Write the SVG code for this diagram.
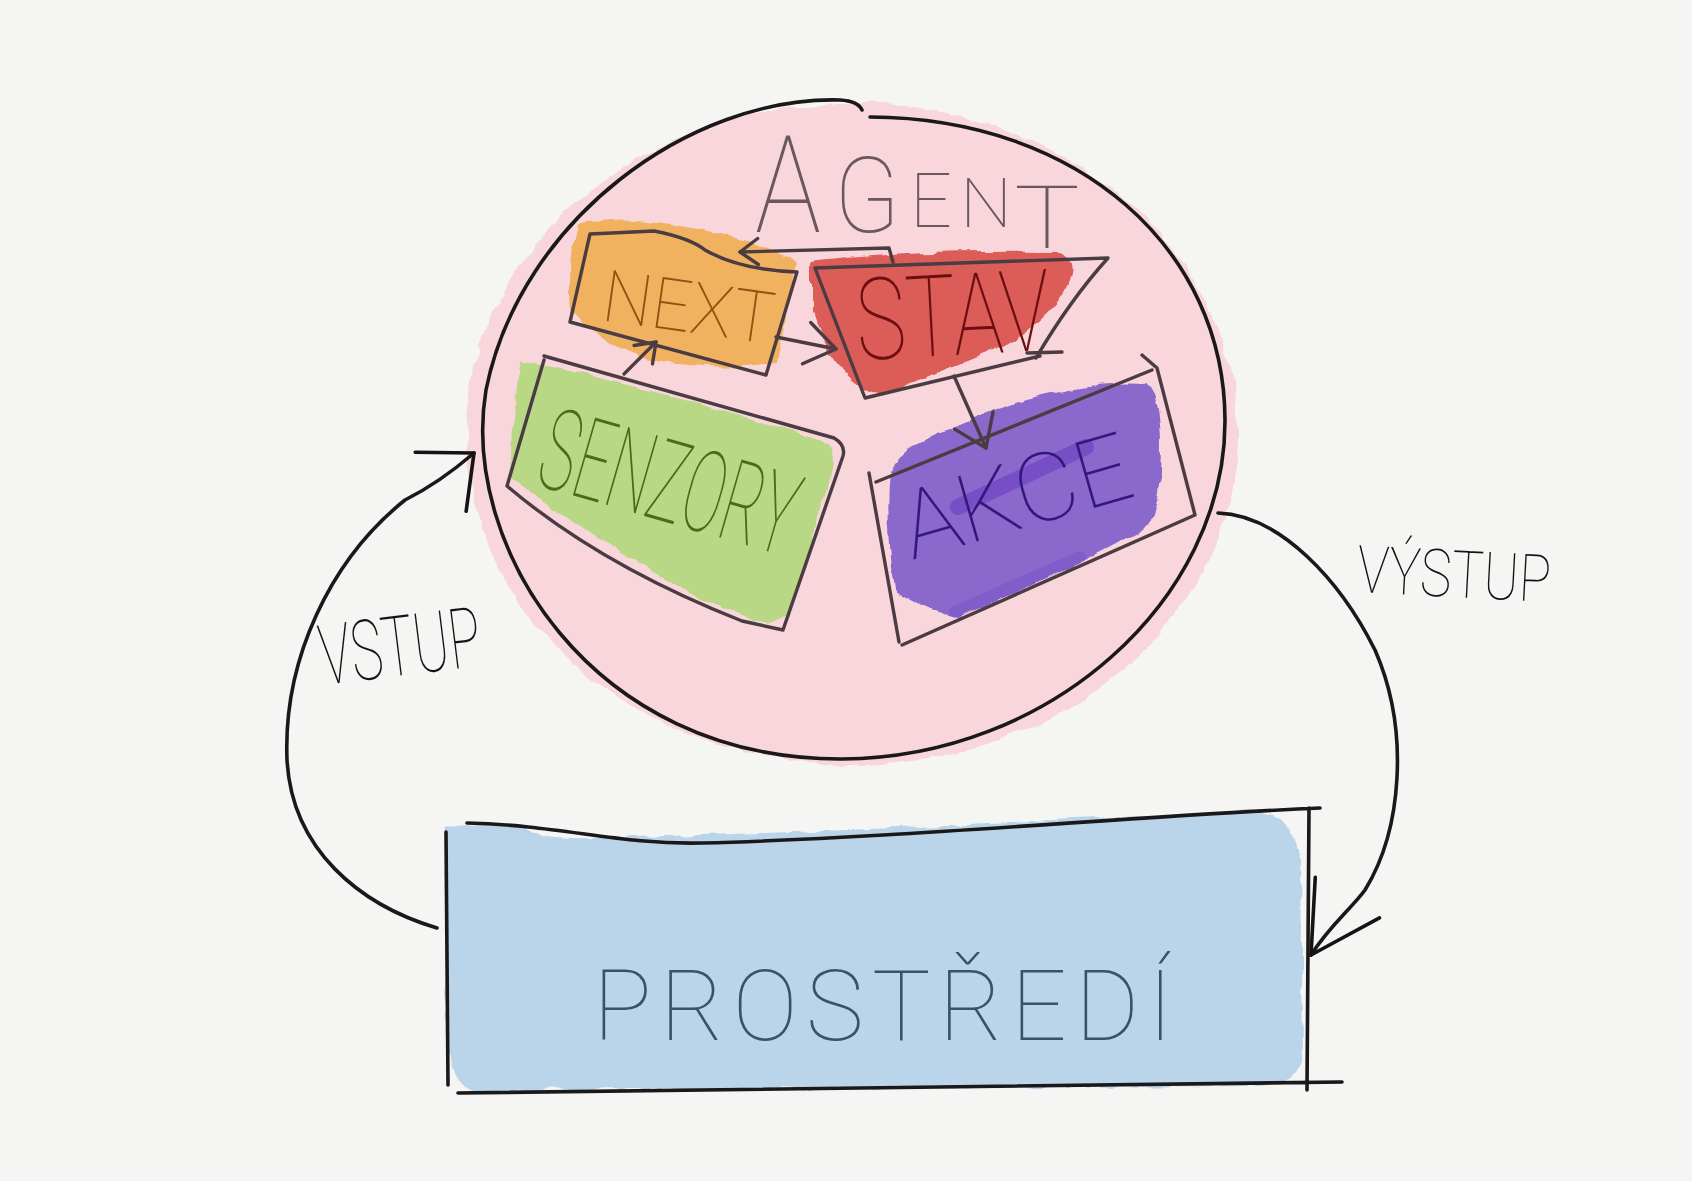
<svg xmlns="http://www.w3.org/2000/svg" width="1692" height="1181" viewBox="0 0 1692 1181">
<style>
 .pen{fill:none;stroke:#1a1819;stroke-width:3.6;stroke-linecap:round;stroke-linejoin:round}
 .ink{fill:none;stroke:#4a3c42;stroke-width:3.4;stroke-linecap:round;stroke-linejoin:round}
 .wash{filter:url(#wc)}
 .hand{font-family:Roboto,'Open Sans','DejaVu Sans',sans-serif;font-weight:100}
</style>
<defs>
 <filter id="wc" x="-10%" y="-10%" width="120%" height="120%">
  <feTurbulence type="fractalNoise" baseFrequency="0.035" numOctaves="3" seed="4" result="n"/>
  <feDisplacementMap in="SourceGraphic" in2="n" scale="10" xChannelSelector="R" yChannelSelector="G"/>
 </filter>
 <marker id="ah-big" viewBox="0 0 50 84" refX="47" refY="42" markerWidth="50" markerHeight="84" markerUnits="userSpaceOnUse" orient="auto" overflow="visible">
  <path d="M3,3 L47,42 L3,81" fill="none" stroke="#141414" stroke-width="3.6" stroke-linecap="round" stroke-linejoin="round"/>
 </marker>
 <marker id="ah-long" viewBox="0 0 72 80" refX="70" refY="40" markerWidth="72" markerHeight="80" markerUnits="userSpaceOnUse" orient="auto" overflow="visible">
  <path d="M2,2 L70,40 L2,78" fill="none" stroke="#141414" stroke-width="3.6" stroke-linecap="round" stroke-linejoin="round"/>
 </marker>
 <marker id="ah-m" viewBox="0 0 34 46" refX="32" refY="23" markerWidth="34" markerHeight="46" markerUnits="userSpaceOnUse" orient="auto" overflow="visible">
  <path d="M2,2 L32,23 L2,44" fill="none" stroke="#4a3c42" stroke-width="3.4" stroke-linecap="round" stroke-linejoin="round"/>
 </marker>
 <marker id="ah-s" viewBox="0 0 22 30" refX="20" refY="15" markerWidth="22" markerHeight="30" markerUnits="userSpaceOnUse" orient="auto" overflow="visible">
  <path d="M2,2 L20,15 L2,28" fill="none" stroke="#4a3c42" stroke-width="3.4" stroke-linecap="round" stroke-linejoin="round"/>
 </marker>
</defs>
<rect width="1692" height="1181" fill="#f5f5f4"/>

<g id="agent">
 <ellipse class="wash" cx="852" cy="434" rx="386" ry="331" fill="#f8d6dc"/>
 <path class="pen" d="M862,110 Q858,101 840,100 C690,96 520,220 486,390 C460,545 590,760 842,759 C1050,758 1225,600 1225,421 C1225,250 1080,118 870,117"/>
 <text class="hand" fill="#6a585d"><tspan x="755" y="232" font-size="136" textLength="66" lengthAdjust="spacingAndGlyphs">A</tspan><tspan x="834" y="232" font-size="105" textLength="66" lengthAdjust="spacingAndGlyphs">G</tspan><tspan x="910" y="227" font-size="76" textLength="42" lengthAdjust="spacingAndGlyphs">E</tspan><tspan x="960" y="227" font-size="69" textLength="52" lengthAdjust="spacingAndGlyphs">N</tspan><tspan x="1014" y="248" font-size="87" textLength="66" lengthAdjust="spacingAndGlyphs">T</tspan></text>
</g>

<g id="senzory">
 <path class="wash" d="M522,360 Q680,395 822,440 Q838,452 830,480 L790,618 Q770,628 735,615 Q620,560 512,478 Q508,420 522,360 Z" fill="#b9d886"/>
 <path class="ink" d="M544,356 L834,438 Q846,445 843,456 L783,630 L742,621 Q600,565 507,486 L544,360"/>
 <text class="hand" x="533" y="484" transform="rotate(16 533 484)" font-size="114" fill="#4c6a1b" textLength="262" lengthAdjust="spacingAndGlyphs">SENZORY</text>
</g>

<g id="next">
 <path class="wash" d="M578,226 Q620,212 690,228 Q760,240 796,262 L776,362 Q720,372 650,360 Q600,345 570,310 Q566,260 578,226 Z" fill="#f1b25f"/>
 <path class="ink" d="M590,234 L654,231 Q690,238 705,250 Q740,270 797,272 L766,375 L570,322 L590,234"/>
 <text class="hand" x="600" y="320" transform="rotate(8 600 320)" font-size="72" fill="#8a5510" textLength="172" lengthAdjust="spacingAndGlyphs">NEXT</text>
</g>

<g id="stav">
 <path class="wash" d="M812,262 Q900,250 1060,252 Q1080,258 1068,285 Q1050,320 1005,345 Q940,372 880,395 Q835,380 812,310 Z" fill="#dc5c58"/>
 <path class="ink" d="M815,268 L1108,258 Q1070,300 1036,358 M1027,353 L1062,352 M1040,356 L865,398 L815,268"/>
 <text class="hand" x="858" y="360" transform="rotate(-3 858 360)" font-size="114" fill="#6d0f10" textLength="194" lengthAdjust="spacingAndGlyphs">STAV</text>
</g>

<g id="akce">
 <path class="wash" d="M960,425 Q1060,380 1145,385 Q1165,400 1160,470 Q1158,520 1140,530 Q1050,580 960,615 Q920,610 895,590 Q885,520 890,470 Q910,440 960,425 Z" fill="#8b68cc"/>
 <path d="M958,507 L1086,447" stroke="#6a3ec0" stroke-width="16" stroke-linecap="round" opacity="0.6" fill="none"/>
 <path d="M955,612 L1080,557" stroke="#7448c4" stroke-width="12" stroke-linecap="round" opacity="0.35" fill="none"/>
 <path class="ink" d="M876,482 L1152,370 M1142,355 L1157,368 L1195,515 L902,645 M869,473 L899,642"/>
 <text class="hand" x="912" y="560" transform="rotate(-16 912 560)" font-size="95" fill="#33177a" textLength="235" lengthAdjust="spacingAndGlyphs">AKCE</text>
</g>

<g id="prostredi">
 <path class="wash" d="M445,828 Q470,822 520,826 Q540,840 600,838 Q900,830 1250,811 Q1295,812 1300,860 L1302,1060 Q1298,1085 1260,1086 L470,1090 Q450,1080 448,1040 Z" fill="#bad5ea"/>
 <path class="pen" d="M467,823 C560,825 620,845 702,843 C900,838 1150,815 1320,808 M446,832 L448,1085 M458,1093 C700,1090 1000,1088 1342,1082 M1309,808 L1307,1090"/>
 <text class="hand" x="593" y="1040" font-size="98" fill="#35536a" textLength="580" lengthAdjust="spacing">PROSTŘEDÍ</text>
</g>

<g id="connectors">
 <path class="ink" d="M624,374 L656,342" marker-end="url(#ah-s)"/>
 <path class="ink" d="M776,337 L836,349" marker-end="url(#ah-m)"/>
 <path class="ink" d="M954,376 L986,448" marker-end="url(#ah-m)"/>
 <path class="ink" d="M893,262 L889,248 L740,252" marker-end="url(#ah-s)"/>
 <path class="pen" d="M437,928 C360,905 292,850 287,760 C283,660 330,560 405,500 C425,490 445,478 474,453" marker-end="url(#ah-big)"/>
 <path class="pen" d="M1218,513 C1280,515 1340,580 1375,650 C1410,730 1402,830 1365,890 C1352,908 1330,925 1311,955" marker-end="url(#ah-long)"/>
 <text class="hand" x="323" y="685" transform="rotate(-7 323 685)" font-size="84" fill="#141414" textLength="162" lengthAdjust="spacingAndGlyphs">VSTUP</text>
 <text class="hand" x="1356" y="592" transform="rotate(3 1356 592)" font-size="66" fill="#141414" textLength="194" lengthAdjust="spacingAndGlyphs">VÝSTUP</text>
</g>
</svg>
